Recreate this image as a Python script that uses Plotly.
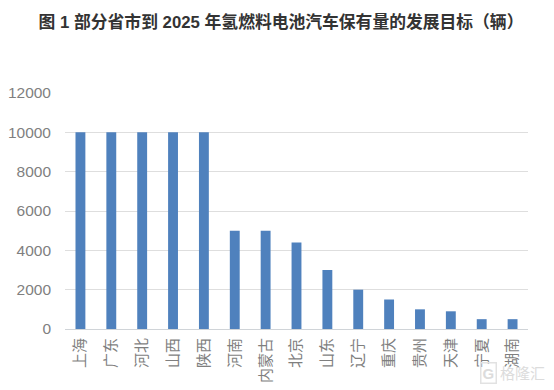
import plotly.graph_objects as go

provinces = ["上海","广东","河北","山西","陕西","河南","内蒙古","北京","山东","辽宁","重庆","贵州","天津","宁夏","湖南"]
targets = [10000,10000,10000,10000,10000,5000,5000,4400,3000,2000,1500,1000,900,500,500]
tick_values = [0,2000,4000,6000,8000,10000,12000]
title_text = "图 1 部分省市到 2025 年氢燃料电池汽车保有量的发展目标（辆）"
watermark = "格隆汇"

CJK = "Liberation Sans, Noto Sans CJK SC"
fig = go.Figure(go.Bar(x=provinces, y=targets, marker=dict(color="#4F81BD", line=dict(width=0)), width=0.32))
fig.update_layout(
    width=546, height=382, autosize=False,
    margin=dict(l=56.5, r=25.5, t=85, b=60.5),
    paper_bgcolor="white", plot_bgcolor="white", showlegend=False,
    font=dict(family=CJK, color="#7f7f7f"),
    title=dict(text=title_text, x=0.5, xanchor="center", y=0.963, yanchor="middle",
               font=dict(size=16.8, color="#333333", family=CJK, weight="bold")),
    xaxis=dict(type="category", tickangle=-90, tickfont=dict(size=15, color="#7f7f7f"), ticks="",
               showline=True, linecolor="#d0d4d8", linewidth=1, showgrid=False, ticklabelstandoff=2, automargin=False),
    yaxis=dict(range=[0,12000], tickvals=tick_values, tickformat="d", tickfont=dict(size=15.5, color="#7f7f7f"), ticks="",
               gridcolor="#dedede", gridwidth=1.3, zeroline=False, showline=False, ticklabelstandoff=13, automargin=False),
)
fig.add_annotation(text=watermark, xref="paper", yref="paper", x=1.04, y=-0.188, xanchor="right", yanchor="middle",
                   showarrow=False, font=dict(size=15, color="#dcdcdc", family=CJK))
fig.add_annotation(text="G", xref="paper", yref="paper", x=0.915, y=-0.188, xanchor="center", yanchor="middle",
                   showarrow=False, font=dict(size=15, color="#dcdcdc", family=CJK, weight="bold"),
                   bordercolor="#e2e2e2", borderwidth=1.5, borderpad=1)
fig.write_html("out.html")
